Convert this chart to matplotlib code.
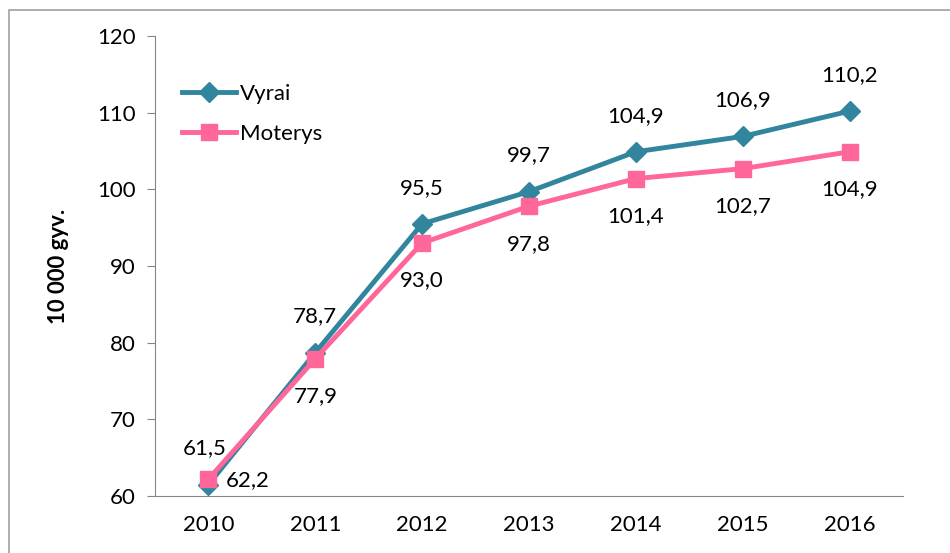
import matplotlib.pyplot as plt
from matplotlib.patches import Rectangle

years = ['2010', '2011', '2012', '2013', '2014', '2015', '2016']
vyrai = [61.5, 78.7, 95.5, 99.7, 104.9, 106.9, 110.2]
moterys = [62.2, 77.9, 93.0, 97.8, 101.4, 102.7, 104.9]

plt.rcParams['font.family'] = ['Lato', 'DejaVu Sans']

fig = plt.figure(figsize=(9.5, 5.53), dpi=100)
fig.patches.append(Rectangle((9 / 950, -0.1), 1.1, 1 - 10 / 553 + 0.1,
                             transform=fig.transFigure, fill=False,
                             edgecolor='#a0a0a0', linewidth=1.2))
ax = fig.add_axes([155 / 950, 1 - 496 / 553, 748 / 950, 460 / 553])

x = list(range(len(years)))
teal = '#31859C'
pink = '#FF6699'
ax.plot(x, vyrai, color=teal, lw=3.5, marker='D', ms=10, label='Vyrai')
ax.plot(x, moterys, color=pink, lw=3.5, marker='s', ms=12, label='Moterys')

fs = 16
fmt = lambda v: f'{v:.1f}'.replace('.', ',')
for i, v in enumerate(vyrai):
    dx = -3 if i == 0 else 0
    ax.annotate(fmt(v), (i, v), xytext=(dx, 26), textcoords='offset points',
                ha='center', va='center', fontsize=fs)
for i, v in enumerate(moterys):
    if i == 0:
        ax.annotate(fmt(v), (i, v), xytext=(28, -1), textcoords='offset points',
                    ha='center', va='center', fontsize=fs)
    else:
        ax.annotate(fmt(v), (i, v), xytext=(0, -27), textcoords='offset points',
                    ha='center', va='center', fontsize=fs)

ax.set_xlim(-0.5, len(years) - 0.5)
ax.set_ylim(60, 120)
ax.set_yticks(range(60, 121, 10))
ax.set_xticks(x)
ax.set_xticklabels(years)
ax.tick_params(axis='x', length=0, labelsize=fs, pad=14)
ax.tick_params(axis='y', length=6, color='#868686', labelsize=fs, pad=8)
for s in ['top', 'right']:
    ax.spines[s].set_visible(False)
for s in ['left', 'bottom']:
    ax.spines[s].set_color('#868686')
ax.set_ylabel('10 000 gyv.', fontsize=fs, fontweight='bold', labelpad=20)

ax.legend(loc='upper left', bbox_to_anchor=(0.01, 0.94), frameon=False,
          fontsize=fs, handlelength=2.4, labelspacing=0.9, handletextpad=0.2)

fig.savefig('out.png', dpi=100)
